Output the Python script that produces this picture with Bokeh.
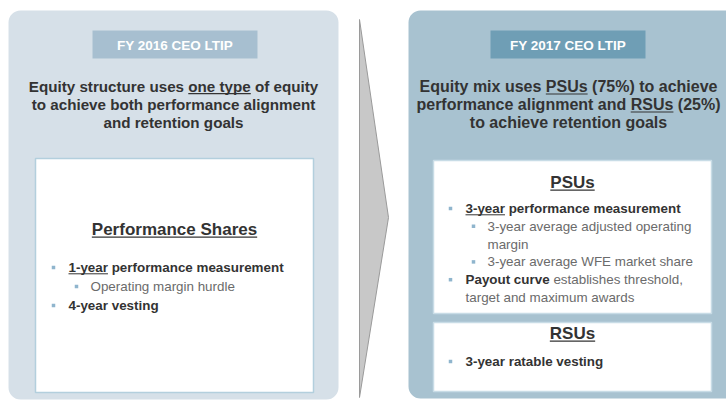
from bokeh.plotting import figure
from bokeh.models import Range1d
from bokeh.core.properties import value
from bokeh.embed import file_html
from bokeh.resources import INLINE

# ---------------- content ----------------
left_header = "FY 2016 CEO LTIP"
right_header = "FY 2017 CEO LTIP"
left_title = ["Equity structure uses one type of equity",
              "to achieve both performance alignment",
              "and retention goals"]
left_title_underlines = [(0, "one type")]
right_title = ["Equity mix uses PSUs (75%) to achieve",
               "performance alignment and RSUs (25%)",
               "to achieve retention goals"]
right_title_underlines = [(0, "PSUs"), (1, "RSUs")]
left_heading = "Performance Shares"
psu_heading = "PSUs"
rsu_heading = "RSUs"
# (level, bold text, regular text, underlined bold prefix, continuation line)
left_bullets = [(1, "1-year performance measurement", "", "1-year", False),
                (2, "", "Operating margin hurdle", "", False),
                (1, "4-year vesting", "", "", False)]
psu_bullets = [(1, "3-year performance measurement", "", "3-year", False),
               (2, "", "3-year average adjusted operating", "", False),
               (2, "", "margin", "", True),
               (2, "", "3-year average WFE market share", "", False),
               (1, "Payout curve", "establishes threshold,", "", False),
               (1, "", "target and maximum awards", "", True)]
rsu_bullets = [(1, "3-year ratable vesting", "", "", False)]

FONT = "Liberation Sans"

# Arial / Liberation Sans advance widths (1/1000 em)
REG = dict(zip(" !%(),-.", [278, 278, 889, 333, 333, 278, 333, 278]))
REG.update({d: 556 for d in "0123456789"})
REG.update(dict(zip("ABCDEFGHIJKLMNOPQRSTUVWXYZ",
                    [667, 667, 722, 722, 667, 611, 778, 722, 278, 500, 667, 556, 833,
                     722, 778, 667, 778, 722, 667, 611, 722, 667, 944, 667, 667, 611])))
REG.update(dict(zip("abcdefghijklmnopqrstuvwxyz",
                    [556, 556, 500, 556, 556, 278, 556, 556, 222, 222, 500, 222, 833,
                     556, 556, 556, 556, 333, 500, 278, 556, 500, 722, 500, 500, 500])))
BOLD = dict(zip(" !%(),-.", [278, 333, 889, 333, 333, 278, 333, 278]))
BOLD.update({d: 556 for d in "0123456789"})
BOLD.update(dict(zip("ABCDEFGHIJKLMNOPQRSTUVWXYZ",
                     [722, 722, 722, 722, 667, 611, 778, 722, 278, 556, 722, 611, 833,
                      722, 778, 667, 778, 722, 667, 611, 722, 667, 944, 667, 667, 611])))
BOLD.update(dict(zip("abcdefghijklmnopqrstuvwxyz",
                     [556, 611, 556, 611, 556, 333, 611, 611, 278, 278, 556, 278, 889,
                      611, 611, 611, 611, 389, 556, 333, 611, 556, 778, 556, 556, 500])))


def tw(s, size, bold=True):
    t = BOLD if bold else REG
    return sum(t.get(c, 556) for c in s) * size / 1000.0


p = figure(width=726, height=400, x_range=Range1d(0, 726), y_range=Range1d(400, 0),
           output_backend="svg", toolbar_location=None, min_border=0)
p.axis.visible = False
p.grid.visible = False
p.outline_line_color = None
p.background_fill_color = "white"

DARK = "#333333"
GREY = "#6b6b6b"
BULLET = "#8fb5cd"

# panels
p.quad(left=8, right=338, top=10, bottom=399, fill_color="#d6e0e8", line_color=None,
       border_radius=12)
p.quad(left=408, right=740, top=10, bottom=398, fill_color="#a8c2d0", line_color=None,
       border_radius=12)

# arrow
p.patch(x=[359, 388, 359], y=[19, 217, 397], fill_color="#c8c8c8", line_color="#9a9a9a",
        line_width=1)

# header boxes
p.quad(left=92, right=257, top=30, bottom=58, fill_color="#a7bfd0", line_color=None)
p.quad(left=490, right=645, top=30, bottom=58, fill_color="#6f9eb5", line_color=None)
p.text(x=[174.5, 567.5], y=[44.5, 44.5], text=[left_header, right_header],
       text_font=value(FONT), text_font_style="bold", text_font_size="13.5px",
       text_color="white", text_align="center", text_baseline="middle")


def title(lines, underlines, cx, size):
    ys = [86 + 18 * i for i in range(len(lines))]
    p.text(x=[cx] * len(lines), y=ys, text=lines, text_font=value(FONT),
           text_font_style="bold", text_font_size=f"{size}px", text_color=DARK,
           text_align="center", text_baseline="middle")
    for li, word in underlines:
        line = lines[li]
        x0 = cx - tw(line, size) / 2 + tw(line[:line.index(word)], size)
        p.segment(x0=x0, x1=x0 + tw(word, size), y0=ys[li] + 0.47 * size,
                  y1=ys[li] + 0.47 * size, line_color=DARK, line_width=1.2)


title(left_title, left_title_underlines, 173, 15.2)
title(right_title, right_title_underlines, 568, 16)

# inner white boxes
p.quad(left=[35], right=[313], top=[158], bottom=[392], fill_color="white",
       line_color="#b3cfdd", line_width=1.5)
p.quad(left=[433, 433], right=[711, 711], top=[160, 322], bottom=[313, 391],
       fill_color="white", line_color="#c8dce6", line_width=1.5)


def heading(txt, cx, cy, size=17):
    p.text(x=[cx], y=[cy], text=[txt], text_font=value(FONT), text_font_style="bold",
           text_font_size=f"{size}px", text_color=DARK, text_align="center",
           text_baseline="middle")
    w = tw(txt, size)
    p.segment(x0=cx - w / 2, x1=cx + w / 2, y0=cy + 0.45 * size, y1=cy + 0.45 * size,
              line_color=DARK, line_width=1.3)


heading(left_heading, 174, 229)
heading(psu_heading, 572, 182)
heading(rsu_heading, 572, 333)


def bullets(items, dot1, y0, step, size=13.4):
    dot2 = dot1 + 23
    bx, by = [], []
    for i, (lvl, b, r, u, cont) in enumerate(items):
        y = y0 + step * i
        xt = dot1 + (15 if lvl == 1 else 37)
        if not cont:
            bx.append(dot1 if lvl == 1 else dot2)
            by.append(y)
        if b:
            p.text(x=[xt], y=[y], text=[b], text_font=value(FONT), text_font_style="bold",
                   text_font_size=f"{size}px", text_color=DARK, text_align="left",
                   text_baseline="middle")
        if r:
            xr = xt + (tw(b + " ", size) if b else 0)
            p.text(x=[xr], y=[y], text=[r], text_font=value(FONT), text_font_style="normal",
                   text_font_size=f"{size}px", text_color=GREY, text_align="left",
                   text_baseline="middle")
        if u:
            p.segment(x0=xt, x1=xt + tw(u, size), y0=y + 0.47 * size, y1=y + 0.47 * size,
                      line_color=DARK, line_width=1)
    p.scatter(x=bx, y=by, marker="square", size=3.5, fill_color=BULLET, line_color=None)


bullets(left_bullets, 53, 267, 19)
bullets(psu_bullets, 450, 208, 17.8)
bullets(rsu_bullets, 450, 361, 18)

open("out.html", "w").write(file_html(p, INLINE))
